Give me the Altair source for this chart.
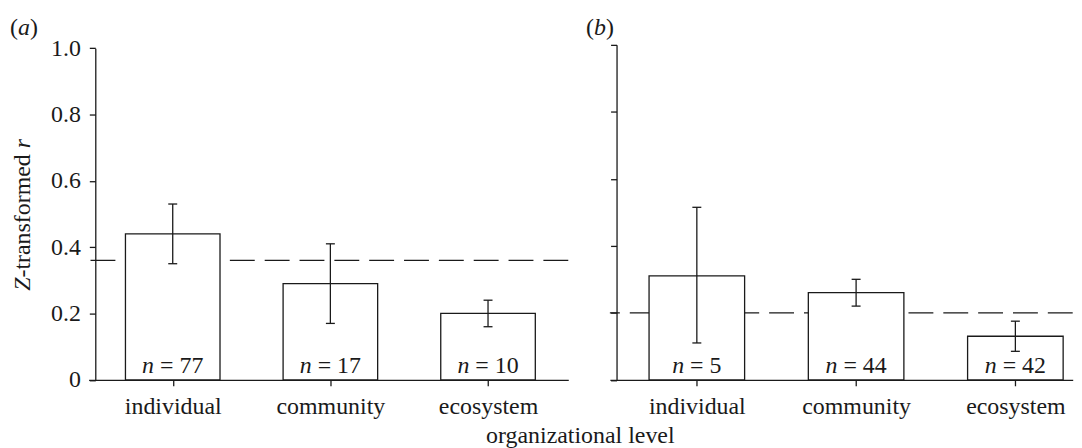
import altair as alt
import pandas as pd
import json

# ---------------- data ----------------
categories = ["individual", "community", "ecosystem"]
positions = [1, 2, 3]

a_mean = [0.44, 0.29, 0.20]
a_lo = [0.35, 0.17, 0.16]
a_hi = [0.53, 0.41, 0.24]
a_n = [77, 17, 10]
a_overall = 0.36

b_mean = [0.31, 0.26, 0.13]
b_lo = [0.11, 0.22, 0.085]
b_hi = [0.515, 0.30, 0.175]
b_n = [5, 44, 42]
b_overall = 0.20

y_ticks = [0, 0.2, 0.4, 0.6, 0.8, 1.0]

# ---------------- style ----------------
FONT = "Liberation Serif"
FS = 24
INK = "#1a1a1a"
SW = 1.3
H = 336.5
YOFF = 6.7

label_expr = json.dumps(categories) + "[datum.value - 1]"
ylab_expr = "datum.value == 0 ? '0' : format(datum.value, '.1f')"

# left edge of the centred label "n = N" (Times metrics), from the number of digits
left_expr = f"-(1.564 + 0.5 * length(toString(datum.n))) * {FS} / 2"


def frame(mean, lo, hi, n):
    return pd.DataFrame({"pos": positions, "mean": mean, "lo": lo, "hi": hi, "n": n})


one = pd.DataFrame({"k": [0]})


def txt(text, x, y, italic=False, align="left", angle=0):
    kw = dict(text=text, font=FONT, fontSize=FS, color=INK, align=align,
              baseline="alphabetic")
    if italic:
        kw["fontStyle"] = "italic"
    if angle:
        kw["angle"] = angle
    return alt.Chart(one).mark_text(**kw).encode(x=alt.value(x), y=alt.value(y))


def letter_label(letter, x0, y0):
    return [
        txt("(", x0, y0),
        txt(letter, x0 + 0.333 * FS, y0, italic=True),
        txt(")", x0 + 0.833 * FS, y0),
    ]


def panel(df, overall, xdom, width, yrange, show_labels, bar_size, extras):
    x_scale = alt.Scale(domain=xdom, nice=False, zero=False, padding=0)
    x_axis = alt.Axis(values=positions, labelExpr=label_expr, title=None, tickSize=6,
                      labelPadding=9, domainColor=INK, tickColor=INK, domainWidth=SW,
                      tickWidth=SW, labelFont=FONT, labelFontSize=FS, labelColor=INK,
                      grid=False)
    ysc = dict(domain=[0, 1], nice=False, zero=True, padding=0)
    if yrange is not None:
        ysc["range"] = yrange
    y_scale = alt.Scale(**ysc)
    y_axis = alt.Axis(values=y_ticks, labels=show_labels, labelExpr=ylab_expr, title=None,
                      offset=-YOFF, tickSize=6, labelPadding=9, domainColor=INK,
                      tickColor=INK, domainWidth=SW, tickWidth=SW, labelFont=FONT,
                      labelFontSize=FS, labelColor=INK, grid=False)

    def X():
        return alt.X("pos:Q", scale=x_scale, axis=x_axis)

    def Y(field):
        return alt.Y(field, scale=y_scale, axis=y_axis)

    base = alt.Chart(df)

    dashed = alt.Chart(pd.DataFrame({"overall": [overall]})).mark_rule(
        strokeDash=[25, 10], color=INK, strokeWidth=SW
    ).encode(y=Y("overall:Q"))

    bars = base.mark_bar(orient="vertical", size=bar_size, fill="white", stroke=INK,
                         strokeWidth=SW).encode(x=X(), y=Y("mean:Q"))
    err = base.mark_rule(color=INK, strokeWidth=SW).encode(x=X(), y=Y("lo:Q"), y2="hi:Q")
    cap_lo = base.mark_tick(orient="horizontal", size=9, thickness=SW, color=INK,
                            opacity=1).encode(x=X(), y=Y("lo:Q"))
    cap_hi = base.mark_tick(orient="horizontal", size=9, thickness=SW, color=INK,
                            opacity=1).encode(x=X(), y=Y("hi:Q"))
    t_n = base.transform_calculate(lab="'n'").mark_text(
        font=FONT, fontSize=FS, color=INK, align="left", baseline="alphabetic", dy=-7,
        fontStyle="italic", dx=alt.ExprRef(left_expr)
    ).encode(x=X(), y=alt.YDatum(0, scale=y_scale, axis=y_axis), text="lab:N")
    t_rest = base.transform_calculate(lab="'= ' + toString(datum.n)").mark_text(
        font=FONT, fontSize=FS, color=INK, align="left", baseline="alphabetic", dy=-7,
        dx=alt.ExprRef(left_expr + f" + {0.75 * FS}")
    ).encode(x=X(), y=alt.YDatum(0, scale=y_scale, axis=y_axis), text="lab:N")

    layers = [dashed, bars, err, cap_lo, cap_hi, t_n, t_rest] + extras
    return alt.layer(*layers).properties(width=width, height=H)


# y title pieces (Z-transformed r), rotated, placed relative to panel a
zw, midw, rw = 0.556 * FS, 5.415 * FS, 0.389 * FS
center_y = 170.8
z_start = center_y + (zw + midw + rw) / 2
p1 = z_start - zw
p2 = p1 - midw
ytitle = [
    txt("Z", -59, p1, italic=True, align="right", angle=270),
    txt("-transformed ", -59, p1, align="left", angle=270),
    txt("r", -59, p2, italic=True, align="left", angle=270),
]
xtitle = [txt("organizational level", 494, 400.3, align="center")]

pa = panel(frame(a_mean, a_lo, a_hi, a_n), a_overall, [0.4665, 3.509], 481.9,
           [H, 3.3], True, 95, ytitle + xtitle + letter_label("a", -79, -10.4))
pb = panel(frame(b_mean, b_lo, b_hi, b_n), b_overall, [0.454, 3.36], 465.0,
           None, False, 96, letter_label("b", -24, -10.4))

chart = alt.hconcat(pa, pb, spacing=41.7, bounds="flush").properties(
    padding={"left": 2, "top": 6, "right": 0, "bottom": 0}
).configure(font=FONT, background="white").configure_view(stroke=None)

chart.save("out.html", embed_options={"renderer": "svg", "actions": False})
